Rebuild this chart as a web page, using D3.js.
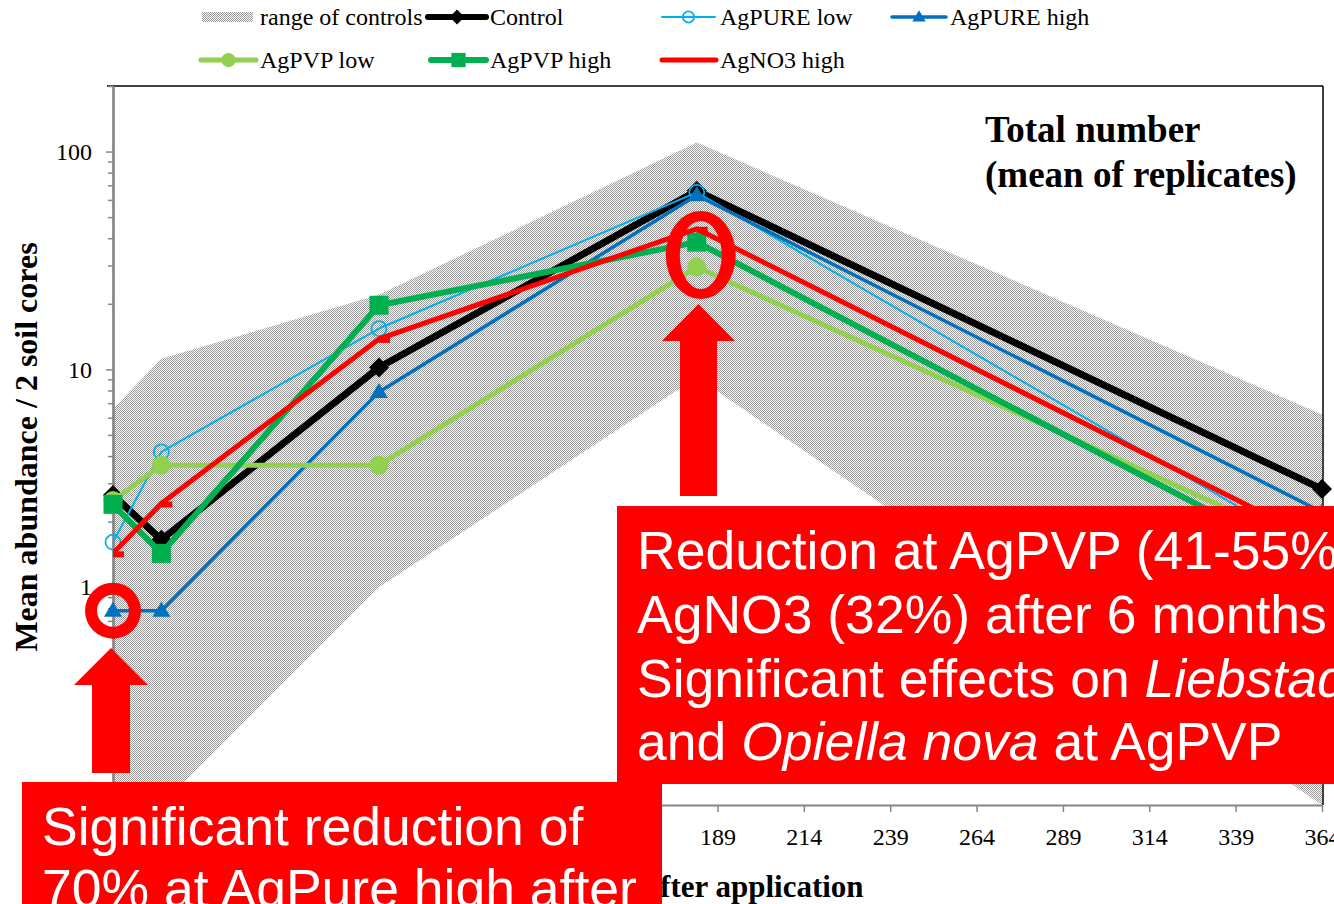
<!DOCTYPE html>
<html>
<head>
<meta charset="utf-8">
<script src="https://cdn.jsdelivr.net/npm/d3@7"></script>
<style>
  html, body { margin: 0; padding: 0; background: #fff; overflow: hidden; }
  svg { display: block; }
</style>
</head>
<body>
<svg id="chart" width="1334" height="904"></svg>
<script>
// ---- data: mean abundance per 2 soil cores, by days after application ----
const days        = [14, 28, 91, 183, 364];
const controlMin  = [0.1, 0.1, 1.0, 9.2, 0.1];
const controlMax  = [6.6, 11.2, 22, 110, 6.2];
const control     = [2.65, 1.65, 10.2, 66, 2.82];
const agPureLow   = [1.61, 4.18, 15.4, 65, 1.4];
const agPureHigh  = [0.78, 0.78, 7.87, 63, 2.21];
const agPvpLow    = [2.5, 3.63, 3.63, 29.5, 1.45];
const agPvpHigh   = [2.4, 1.43, 19.7, 38.4, 1.2];
const agNo3High   = [1.43, 2.42, 13.8, 44.2, 1.6];
const xTickLabels = [14, 39, 64, 89, 114, 139, 164, 189, 214, 239, 264, 289, 314, 339, 364];
const yMajorTicks = [0.1, 1, 10, 100];

const serif = "'Liberation Serif', 'Times New Roman', Times, serif";
const sans  = "'Liberation Sans', Arial, Helvetica, sans-serif";

const svg = d3.select("#chart");
const plot = { left: 113, right: 1322, top: 86, bottom: 805 };

const x = d3.scaleLinear().domain([14, 364]).range([plot.left, plot.right]);
const y = d3.scaleLog().domain([0.1, 200]).range([plot.bottom, plot.top]);

// ---- defs: checker fill for the control range, plot clip ----
const defs = svg.append("defs");
const pat = defs.append("pattern").attr("id", "checker")
  .attr("width", 2).attr("height", 2).attr("patternUnits", "userSpaceOnUse");
pat.append("rect").attr("width", 2).attr("height", 2).attr("fill", "#fafafa");
pat.append("rect").attr("width", 1).attr("height", 1).attr("fill", "#999999");
pat.append("rect").attr("x", 1).attr("y", 1).attr("width", 1).attr("height", 1).attr("fill", "#999999");

defs.append("clipPath").attr("id", "plotClip").append("rect")
  .attr("x", plot.left).attr("y", plot.top)
  .attr("width", plot.right - plot.left).attr("height", plot.bottom - plot.top);

// ---- range of controls ----
const rangeData = days.map((d, i) => ({ day: d, lo: controlMin[i], hi: controlMax[i] }));
svg.append("path")
  .datum(rangeData)
  .attr("clip-path", "url(#plotClip)")
  .attr("fill", "url(#checker)")
  .attr("d", d3.area().x(d => x(d.day)).y0(d => y(d.lo)).y1(d => y(d.hi)));

// ---- frame ----
svg.append("line").attr("x1", plot.left - 6).attr("x2", plot.right + 1)
  .attr("y1", plot.top).attr("y2", plot.top).attr("stroke", "#000").attr("stroke-width", 1.5);
svg.append("line").attr("x1", plot.right + 1).attr("x2", plot.right + 1)
  .attr("y1", plot.top).attr("y2", plot.bottom).attr("stroke", "#000").attr("stroke-width", 1.5);

// ---- axes ----
const yMinorTicks = [];
yMajorTicks.forEach(m => { for (let k = 2; k <= 9; k++) { const v = m * k; if (v <= 200) yMinorTicks.push(v); } });

const axisGrey = "#868686";
const yMinorG = svg.append("g").attr("transform", `translate(${plot.left},0)`)
  .call(d3.axisLeft(y).tickValues(yMinorTicks).tickSize(5).tickSizeOuter(0).tickFormat(""));
const yMajorG = svg.append("g").attr("transform", `translate(${plot.left},0)`)
  .call(d3.axisLeft(y).tickValues(yMajorTicks).tickSize(7).tickSizeOuter(0).tickPadding(14)
    .tickFormat(d => d3.format("~g")(d)));
const xG = svg.append("g").attr("transform", `translate(0,${plot.bottom})`)
  .call(d3.axisBottom(x).tickValues(xTickLabels).tickSize(7).tickSizeOuter(0).tickPadding(16)
    .tickFormat(d3.format("d")));

[yMinorG, yMajorG, xG].forEach(g => {
  g.select(".domain").attr("stroke", axisGrey).attr("stroke-width", 2.2);
  g.selectAll(".tick line").attr("stroke", axisGrey).attr("stroke-width", 1.5);
  g.selectAll(".tick text").attr("fill", "#000").style("font-family", serif).style("font-size", "24px");
});

// ---- axis titles ----
svg.append("text")
  .attr("transform", "translate(37,447) rotate(-90)")
  .attr("text-anchor", "middle")
  .style("font-family", serif).style("font-size", "32px").style("font-weight", "bold")
  .text("Mean abundance / 2 soil cores");

svg.append("text")
  .attr("x", (plot.left + plot.right) / 2).attr("y", 897)
  .attr("text-anchor", "middle")
  .style("font-family", serif).style("font-size", "31px").style("font-weight", "bold")
  .text("Days after application");

// ---- chart title ----
const title = svg.append("text")
  .style("font-family", serif).style("font-size", "37px").style("font-weight", "bold");
title.append("tspan").attr("x", 985).attr("y", 142).text("Total number");
title.append("tspan").attr("x", 985).attr("y", 187).text("(mean of replicates)");

// ---- series ----
const series = [
  { name: "Control",     values: control,    color: "#000000", width: 7,   marker: "diamond" },
  { name: "AgPURE low",  values: agPureLow,  color: "#00B0F0", width: 2,   marker: "openCircle" },
  { name: "AgPURE high", values: agPureHigh, color: "#0070C0", width: 3.5, marker: "triangle" },
  { name: "AgPVP low",   values: agPvpLow,   color: "#92D050", width: 5,   marker: "circle" },
  { name: "AgPVP high",  values: agPvpHigh,  color: "#00B050", width: 6,   marker: "square" },
  { name: "AgNO3 high",  values: agNo3High,  color: "#FF0000", width: 5,   marker: "dash" }
];

function drawMarker(g, type, cx, cy, color, s) {
  s = s || 1;
  switch (type) {
    case "diamond":
      g.append("path").attr("d", `M${cx},${cy - 10 * s} L${cx + 10 * s},${cy} L${cx},${cy + 10 * s} L${cx - 10 * s},${cy} Z`)
        .attr("fill", color);
      break;
    case "openCircle":
      g.append("circle").attr("cx", cx).attr("cy", cy).attr("r", 7.5 * s)
        .attr("fill", "none").attr("stroke", color).attr("stroke-width", 1.8);
      break;
    case "triangle":
      g.append("path").attr("d", `M${cx},${cy - 9 * s} L${cx + 9 * s},${cy + 6 * s} L${cx - 9 * s},${cy + 6 * s} Z`)
        .attr("fill", color);
      break;
    case "circle":
      g.append("circle").attr("cx", cx).attr("cy", cy).attr("r", 9.5 * s).attr("fill", color);
      break;
    case "square":
      g.append("rect").attr("x", cx - 9.5 * s).attr("y", cy - 9.5 * s)
        .attr("width", 19 * s).attr("height", 19 * s).attr("fill", color);
      break;
    case "dash":
      if (s === 1) g.append("rect").attr("x", cx).attr("y", cy - 2).attr("width", 11).attr("height", 6).attr("fill", color);
      break;
  }
}

const lineGen = d3.line().x(d => x(d.day)).y(d => y(d.v));
series.forEach(s => {
  const pts = days.map((d, i) => ({ day: d, v: s.values[i] }));
  const g = svg.append("g").attr("class", "series");
  g.append("path").datum(pts)
    .attr("clip-path", "url(#plotClip)")
    .attr("fill", "none").attr("stroke", s.color).attr("stroke-width", s.width)
    .attr("stroke-linejoin", "round").attr("stroke-linecap", "round")
    .attr("d", lineGen);
  pts.forEach(p => drawMarker(g, s.marker, x(p.day), y(p.v), s.color));
});

// ---- legend ----
const legend = svg.append("g").style("font-family", serif).style("font-size", "24px");
legend.append("rect").attr("x", 202).attr("y", 12).attr("width", 51).attr("height", 10).attr("fill", "url(#checker)");
legend.append("text").attr("x", 260).attr("y", 25).text("range of controls");

const legendItems = [
  { s: series[0], x0: 428, x1: 486, y: 17, tx: 490 },
  { s: series[1], x0: 662, x1: 715, y: 17, tx: 720 },
  { s: series[2], x0: 892, x1: 946, y: 17, tx: 950 },
  { s: series[3], x0: 201, x1: 256, y: 60, tx: 260 },
  { s: series[4], x0: 431, x1: 486, y: 60, tx: 490 },
  { s: series[5], x0: 662, x1: 716, y: 60, tx: 720 }
];
legendItems.forEach(it => {
  legend.append("line").attr("x1", it.x0).attr("x2", it.x1).attr("y1", it.y).attr("y2", it.y)
    .attr("stroke", it.s.color).attr("stroke-width", Math.min(it.s.width, 6)).attr("stroke-linecap", "round");
  drawMarker(legend, it.s.marker, (it.x0 + it.x1) / 2, it.y, it.s.color, 0.75);
  legend.append("text").attr("x", it.tx).attr("y", it.y + 8).text(it.s.name);
});

// ---- annotations ----
const red = "#FF0000";
const ann = svg.append("g");

// highlight rings
ann.append("path").attr("fill", red).attr("fill-rule", "evenodd")
  .attr("d", (() => {
    const cx = x(days[0]), cy = y(agPureHigh[0]);
    const ro = 28, ri = 16;
    return `M${cx - ro},${cy} a${ro},${ro} 0 1,0 ${2 * ro},0 a${ro},${ro} 0 1,0 ${-2 * ro},0 Z ` +
           `M${cx - ri},${cy} a${ri},${ri} 0 1,0 ${2 * ri},0 a${ri},${ri} 0 1,0 ${-2 * ri},0 Z`;
  })());
ann.append("path").attr("fill", red).attr("fill-rule", "evenodd")
  .attr("d", (() => {
    const cx = x(days[3]) + 4, cy = 255;
    const rxo = 35, ryo = 44, rxi = 21, ryi = 34;
    return `M${cx - rxo},${cy} a${rxo},${ryo} 0 1,0 ${2 * rxo},0 a${rxo},${ryo} 0 1,0 ${-2 * rxo},0 Z ` +
           `M${cx - rxi},${cy} a${rxi},${ryi} 0 1,0 ${2 * rxi},0 a${rxi},${ryi} 0 1,0 ${-2 * rxi},0 Z`;
  })());

// up arrows
function upArrow(cx, tipY, headY, bottomY, headHalf, shaftHalf) {
  return `M${cx},${tipY} L${cx + headHalf},${headY} L${cx + shaftHalf},${headY} L${cx + shaftHalf},${bottomY} ` +
         `L${cx - shaftHalf},${bottomY} L${cx - shaftHalf},${headY} L${cx - headHalf},${headY} Z`;
}
ann.append("path").attr("fill", red).attr("d", upArrow(111, 648, 685, 773, 37, 19));
ann.append("path").attr("fill", red).attr("d", upArrow(698.5, 304, 341, 496, 36.5, 18.5));

// text boxes
ann.append("rect").attr("x", 617).attr("y", 506).attr("width", 730).attr("height", 278).attr("fill", red);
ann.append("rect").attr("x", 22).attr("y", 782).attr("width", 640).attr("height", 130).attr("fill", red);

const boxText = ann.append("text").attr("fill", "#fff")
  .style("font-family", sans).style("font-size", "53.5px");
boxText.append("tspan").attr("x", 637).attr("y", 569).text("Reduction at AgPVP (41-55%) and");
boxText.append("tspan").attr("x", 637).attr("y", 633).text("AgNO3 (32%) after 6 months");
const l3 = boxText.append("tspan").attr("x", 637).attr("y", 697);
l3.text("Significant effects on ");
boxText.append("tspan").style("font-style", "italic").text("Liebstadia");
boxText.append("tspan").attr("x", 637).attr("y", 760).text("and ");
boxText.append("tspan").style("font-style", "italic").text("Opiella nova");
boxText.append("tspan").text(" at AgPVP");

const leftText = ann.append("text").attr("fill", "#fff")
  .style("font-family", sans).style("font-size", "53.5px");
leftText.append("tspan").attr("x", 42).attr("y", 845).text("Significant reduction of");
leftText.append("tspan").attr("x", 42).attr("y", 907).text("70% at AgPure high after");
</script>
</body>
</html>
